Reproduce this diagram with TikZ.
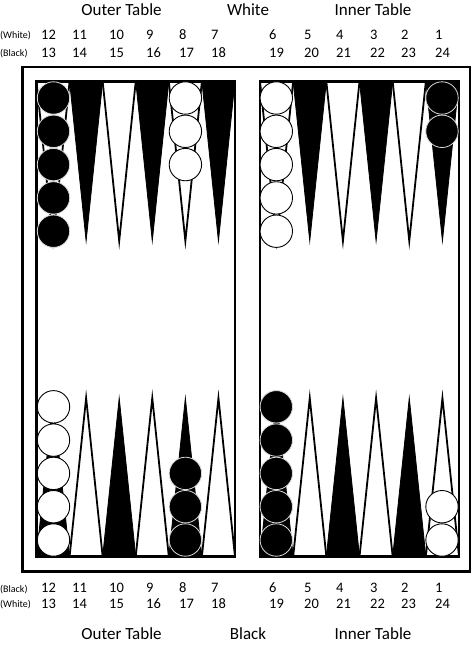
\documentclass[tikz,border=0pt]{standalone}
\usepackage{fontspec}
\setmainfont{Carlito}
\begin{document}
\begin{tikzpicture}[x=1pt,y=-1pt,
  blk/.style={fill=black,draw=black,line width=0.8pt},
  wht/.style={fill=white,draw=black,line width=1.8pt},
  bchk/.style={circle,fill=black,draw=black!15,line width=0.8pt,minimum size=32.4pt,inner sep=0pt},
  wchk/.style={circle,fill=white,draw=black,line width=0.9pt,minimum size=32.4pt,inner sep=0pt},
  numlab/.style={anchor=base west,inner sep=0pt,font=\fontsize{14.5}{16}\selectfont},
  sidelab/.style={anchor=base west,inner sep=0pt,font=\fontsize{10}{12}\selectfont},
  heading/.style={anchor=base,inner sep=0pt,font=\fontsize{17}{20}\selectfont}]
\useasboundingbox (0,0) rectangle (474,645);

\draw [line width=2.5pt] (22.5,67) rectangle (470,571.5);

\foreach \bx/\bw in {36.5/33.08, 260/33.17}{
  \foreach \i/\up/\dn in {0/wht/blk, 1/blk/wht, 2/wht/blk, 3/blk/wht, 4/wht/blk, 5/blk/wht}{
    \draw [\up] ({\bx+\i*\bw},81.5) -- ({\bx+(\i+0.5)*\bw},241) -- ({\bx+(\i+1)*\bw},81.5) -- cycle;
    \draw [\dn] ({\bx+\i*\bw},556.5) -- ({\bx+(\i+0.5)*\bw},398) -- ({\bx+(\i+1)*\bw},556.5) -- cycle;
  }
}

\draw [line width=2.7pt] (36.5,81.5) rectangle (235,556.5);
\draw [line width=2.7pt] (260,81.5) rectangle (459,556.5);

\foreach \cx/\cy/\dy/\cnt/\st/\nm in {53.5/98/33.3/5/bchk/p12, 185.4/98/33.3/3/wchk/p8,
    276.3/98/33.3/5/wchk/p6, 442/98/33.3/2/bchk/p1, 53.5/540/-33.3/5/wchk/p13,
    185.4/540/-33.3/3/bchk/p17, 276.3/540/-33.3/5/bchk/p19, 442/540/-33.3/2/wchk/p24}
  \foreach \k in {1,...,\cnt}
    \node[\st] (\nm-\k) at (\cx,{\cy+(\k-1)*\dy}) {};

\foreach \xp/\a/\b in {41/12/13, 72/11/14, 109/10/15, 146/9/16, 179/8/17, 211/7/18,
    269/6/19, 304/5/20, 336/4/21, 370/3/22, 401/2/23, 435/1/24}{
  \node[numlab] (tw\a) at (\xp,39.3) {\a};
  \node[numlab] (tb\b) at (\xp,57.3) {\b};
  \node[numlab] (bb\a) at (\xp,592.7) {\a};
  \node[numlab] (bw\b) at (\xp,608.3) {\b};
}

\node[sidelab] (topwhite) at (0,38.3) {(White)};
\node[sidelab] (topblack) at (0,56) {(Black)};
\node[sidelab] (botblack) at (0,592.3) {(Black)};
\node[sidelab] (botwhite) at (0,607.3) {(White)};

\node[heading] (outertop) at (121.5,15) {Outer Table};
\node[heading] (whitetop) at (248,15) {White};
\node[heading] (innertop) at (373,15) {Inner Table};
\node[heading] (outerbot) at (121.5,639) {Outer Table};
\node[heading] (blackbot) at (248,639) {Black};
\node[heading] (innerbot) at (373,639) {Inner Table};
\end{tikzpicture}
\end{document}
